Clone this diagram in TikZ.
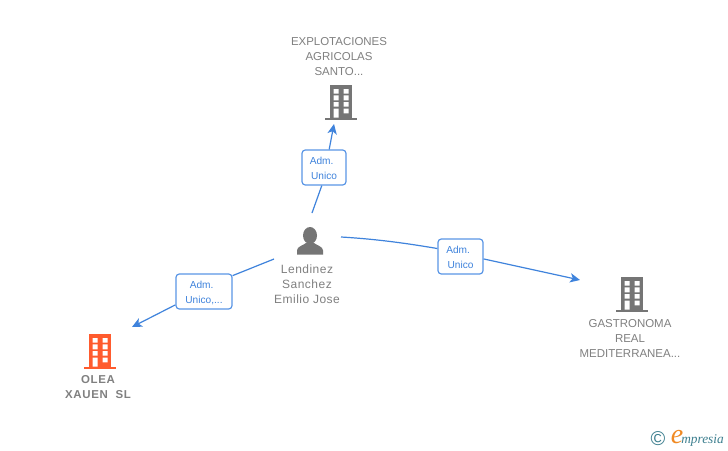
\documentclass[tikz,border=0pt]{standalone}
\usepackage{fontspec}
\setmainfont{Liberation Sans}
\newfontfamily\spacedfont[LetterSpace=4]{Liberation Sans}
\newfontfamily\spacedbold[LetterSpace=6]{Liberation Sans Bold}
\newfontfamily\logofont{Liberation Serif}
\usetikzlibrary{arrows.meta}
\definecolor{iconGray}{HTML}{757575}
\definecolor{textGray}{HTML}{808080}
\definecolor{linkBlue}{HTML}{3F83DC}
\definecolor{boxBlue}{HTML}{5A96E6}
\definecolor{hotOrange}{HTML}{FF5B2E}
\definecolor{logoTeal}{HTML}{3D7F8F}
\definecolor{logoOrange}{HTML}{F08A24}
\newcommand{\admline}{\rule{0pt}{7pt}Adm.\hspace*{3.5pt}}
\tikzset{
  company/.style={align=center,inner sep=0pt,text=textGray,font=\fontsize{8.6}{11.25}\selectfont},
  personlabel/.style={align=center,inner sep=0pt,text=textGray,font=\fontsize{9}{11.25}\spacedfont},
  mainlabel/.style={align=center,inner sep=0pt,text=textGray,font=\fontsize{8.6}{11.25}\spacedbold},
  rolebox/.style={draw=boxBlue,fill=white,line width=0.9pt,rounded corners=2.5pt,inner sep=0pt,
    align=center,text=linkBlue,font=\fontsize{7.6}{11.25}\selectfont},
  link/.style={draw=linkBlue,line width=0.9pt},
  arrowlink/.style={link,-{Stealth[length=7.5pt,width=7pt,inset=2pt]}},
  pics/building/.style={code={
    \fill[#1] (-11,-17) rectangle (11,15.5);
    \fill[#1] (-16,15.5) rectangle (16,18);
    \fill[white] (-7.3,-13) rectangle (-2.4,-8.4) (2.7,-13) rectangle (7.6,-8.4)
      (-7.3,-6.6) rectangle (-2.4,-1.7) (2.7,-6.6) rectangle (7.6,-1.7)
      (-7.3,0) rectangle (-2.4,4.6) (2.7,0) rectangle (7.6,4.6)
      (-7.3,6.7) rectangle (-2.4,15.5) (2.7,6.7) rectangle (7.6,11.3);
  }},
}
\begin{document}
\begin{tikzpicture}[x=0.75pt,y=-0.75pt]
\useasboundingbox (0,0) rectangle (728,450);
\fill[white] (0,0) rectangle (728,450);

\pic at (341,102) {building=iconGray};
\pic at (632,294) {building=iconGray};
\pic at (100,351) {building=hotOrange};

% person icon
\fill[iconGray] (310,235.5) ellipse (7 and 8.5);
\fill[iconGray] (297,254.5) -- (297,250.5) .. controls (297,246.5) and (303,245.5) .. (306,243)
  -- (314,243) .. controls (317,245.5) and (323,246.5) .. (323,250.5) -- (323,254.5) -- cycle;

\node[company] (top) at (339,57) {EXPLOTACIONES\\AGRICOLAS\\SANTO...};
\node[company] (right) at (630,338) {GASTRONOMA\\REAL\\MEDITERRANEA...};
\node[mainlabel] (left) at (98,387.5) {OLEA\\XAUEN\ \ SL};
\node[personlabel] (person) at (307,284.5) {Lendinez\\Sanchez\\Emilio Jose};

\node[rolebox,minimum width=33pt,minimum height=26.25pt] (boxT) at (324,167.5) {\admline\\Unico};
\node[rolebox,minimum width=42pt,minimum height=26.25pt] (boxL) at (204,291.5) {\admline\\Unico,...};
\node[rolebox,minimum width=33.75pt,minimum height=26.25pt] (boxR) at (460.5,256.5) {\admline\\Unico};

\coordinate (startT) at (312,213);
\coordinate (startL) at (274,259);
\coordinate (startR) at (341,237);
\coordinate (endT) at (334,124);
\coordinate (endL) at (132,327);
\coordinate (endR) at (580,280);

\draw[link] (startT) -- (boxT.263);
\draw[arrowlink] (boxT.74) -- (endT);
\draw[link] (startL) -- (boxL.29);
\draw[arrowlink] (boxL.205.7) -- (endL);
\draw[link] (startR) .. controls (375,239) and (405,243) .. (boxR.161.6);
\draw[arrowlink] (boxR.-6.3) -- (endR);

% logo
\node[inner sep=0pt,text=logoTeal,font=\fontsize{15}{15}\selectfont] (copy) at (658,439) {©};
\node[inner sep=0pt,text=logoOrange,font=\fontsize{21}{21}\logofont\itshape] (logoE) at (677,437) {e};
\node[inner sep=0pt,anchor=west,text=logoTeal,font=\fontsize{10}{10}\logofont\itshape] (logoT) at (681,440) {mpresia};
\end{tikzpicture}
\end{document}
